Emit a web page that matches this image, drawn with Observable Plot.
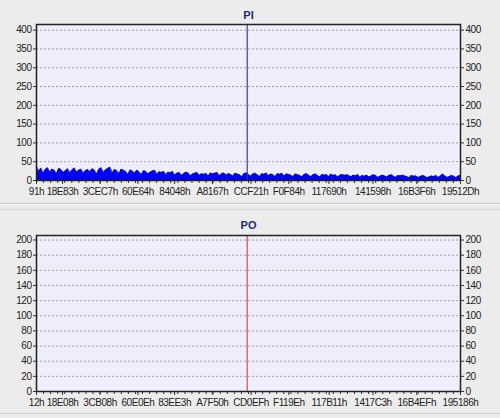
<!DOCTYPE html>
<html>
<head>
<meta charset="utf-8">
<script src="https://cdn.jsdelivr.net/npm/d3@7"></script>
<script src="https://cdn.jsdelivr.net/npm/@observablehq/plot@0.6"></script>
<style>
  html, body { margin: 0; padding: 0; background: #ececec; }
  #wrap { position: relative; width: 500px; height: 418px; overflow: hidden; background: #ececec; }
  #top { position: absolute; left: 0; top: 0; }
  #bottom { position: absolute; left: 0; top: 200px; }
  .sep1 { position: absolute; left: 0; top: 203px; width: 500px; height: 0; border-top: 1px solid #c8c8c8; border-bottom: 1px solid #fafafa; }
  .sep2 { position: absolute; left: 0; top: 209px; width: 500px; height: 0; border-top: 1px solid #d4d4d4; }
  .sep3 { position: absolute; left: 0; top: 413px; width: 500px; height: 0; border-top: 1px solid #d0d0d0; }
  svg { font-family: "Liberation Sans", Arial, sans-serif; }
  svg g[aria-label="x-axis tick label"] text, svg g[aria-label="y-axis tick label"] text { letter-spacing: -0.45px; }
</style>
</head>
<body>
<div id="wrap">
  <div id="top"></div>
  <div class="sep1"></div>
  <div class="sep2"></div>
  <div id="bottom"></div>
  <div class="sep3"></div>
</div>
<script>
// ---------- Data ----------
const piTitle = "PI";
const poTitle = "PO";
const piStart = 0x91, piEnd = 0x19512D;
const poStart = 0x12, poEnd = 0x195186;
const piTickLabels = ["91h","18E83h","3CEC7h","60E64h","84048h","A8167h","CCF21h","F0F84h","117690h","141598h","16B3F6h","19512Dh"];
const poTickLabels = ["12h","18E08h","3CB08h","60E0Eh","83EE3h","A7F50h","CD0EFh","F119Eh","117B11h","1417C3h","16B4EFh","195186h"];
const piYTicks = [0,50,100,150,200,250,300,350,400];
const poYTicks = [0,20,40,60,80,100,120,140,160,180,200];
const piYMax = 415;
const poYMax = 206;
const piCursor = 0xC9500;
const poCursor = 0xC94C0;
const piValues = [
  38,24,33,19,29,34,22,30,27,18,32,29,21,26,31,20,28,33,22,27,30,19,26,29,23,31,27,17,30,34,
  21,28,32,35,20,29,26,18,30,27,24,16,28,25,19,27,23,15,26,24,17,22,25,27,16,23,21,24,15,22,
  20,24,14,19,21,13,18,22,20,12,17,19,21,13,18,16,19,12,20,17,19,21,12,18,20,14,
  18,16,11,19,17,15,10,18,20,16,11,17,19,15,10,18,16,20,12,17,15,10,18,16,19,11,17,
  16,14,10,17,15,13,9,16,18,14,10,15,17,13,9,16,14,15,10,17,13,15,9,14,16,13,
  15,13,9,14,12,16,8,13,11,14,9,12,15,13,8,11,14,12,9,13,15,11,8,13,12,14,
  12,10,7,13,11,12,8,10,13,11,7,9,12,10,13,8,11,17,12,8,10,13,11,7,12,13
];
// PO: no errors
const poValues = [0, 0];

// ---------- Helpers ----------
const hexParse = s => parseInt(s.replace("h",""), 16);
const hexFmt = d => d.toString(16).toUpperCase() + "h";

function series(values, start, end) {
  const n = values.length;
  return values.map((v, i) => ({x: start + (end - start) * i / (n - 1), y: v}));
}

function makePanel({title, start, end, tickLabels, yTicks, yMax, data, fill, cursor, cursorColor, height, marginTop, marginBottom, titleDy}) {
  const majors = tickLabels.map(hexParse);
  const minors = d3.range(61).map(i => start + (end - start) * i / 60);
  const grid = yTicks.filter(d => d > 0);
  return Plot.plot({
    width: 500,
    height,
    marginLeft: 36,
    marginRight: 40,
    marginTop,
    marginBottom,
    style: {background: "transparent", fontSize: "10px", color: "#222", fontFamily: "'Liberation Sans', Arial, sans-serif"},
    x: {domain: [start, end], label: null},
    y: {domain: [0, yMax], label: null},
    marks: [
      Plot.frame({fill: "#eeeefc", stroke: null}),
      Plot.ruleY(grid, {stroke: "#a0a0a6", strokeDasharray: "2,2", strokeWidth: 1}),
      data ? Plot.areaY(data, {x: "x", y: "y", fill, curve: "linear"}) : null,
      data ? Plot.lineY(data, {x: "x", y: "y", stroke: "#0000b4", strokeWidth: 0.7}) : null,
      Plot.ruleX([cursor], {stroke: cursorColor, strokeWidth: 1.2}),
      Plot.axisX(minors, {tickSize: 3, text: null, stroke: "#333", label: null}),
      Plot.axisX(majors, {tickSize: 4, tickPadding: 3, tickFormat: hexFmt, fill: "#222", stroke: "#333", label: null}),
      Plot.axisY(yTicks, {anchor: "left", tickSize: 3, tickPadding: 2, fill: "#222", stroke: "#333", label: null}),
      Plot.axisY(yTicks, {anchor: "right", tickSize: 3, tickPadding: 2, fill: "#222", stroke: "#333", label: null}),
      Plot.frame({stroke: "#222", strokeWidth: 1.5}),
      Plot.text([title], {frameAnchor: "top", dy: titleDy, text: d => d, fill: "#1a2a7a", fontWeight: "bold", fontSize: 11})
    ]
  });
}

document.getElementById("top").append(makePanel({
  title: piTitle, start: piStart, end: piEnd, tickLabels: piTickLabels, yTicks: piYTicks, yMax: piYMax,
  data: series(piValues, piStart, piEnd), fill: "#0000f8", cursor: piCursor, cursorColor: "#3a3aa8",
  height: 200, marginTop: 24, marginBottom: 20, titleDy: -13
}));

document.getElementById("bottom").append(makePanel({
  title: poTitle, start: poStart, end: poEnd, tickLabels: poTickLabels, yTicks: poYTicks, yMax: poYMax,
  data: null, fill: "#0000f8", cursor: poCursor, cursorColor: "#e04848",
  height: 218, marginTop: 35, marginBottom: 27, titleDy: -14
}));
</script>
</body>
</html>
